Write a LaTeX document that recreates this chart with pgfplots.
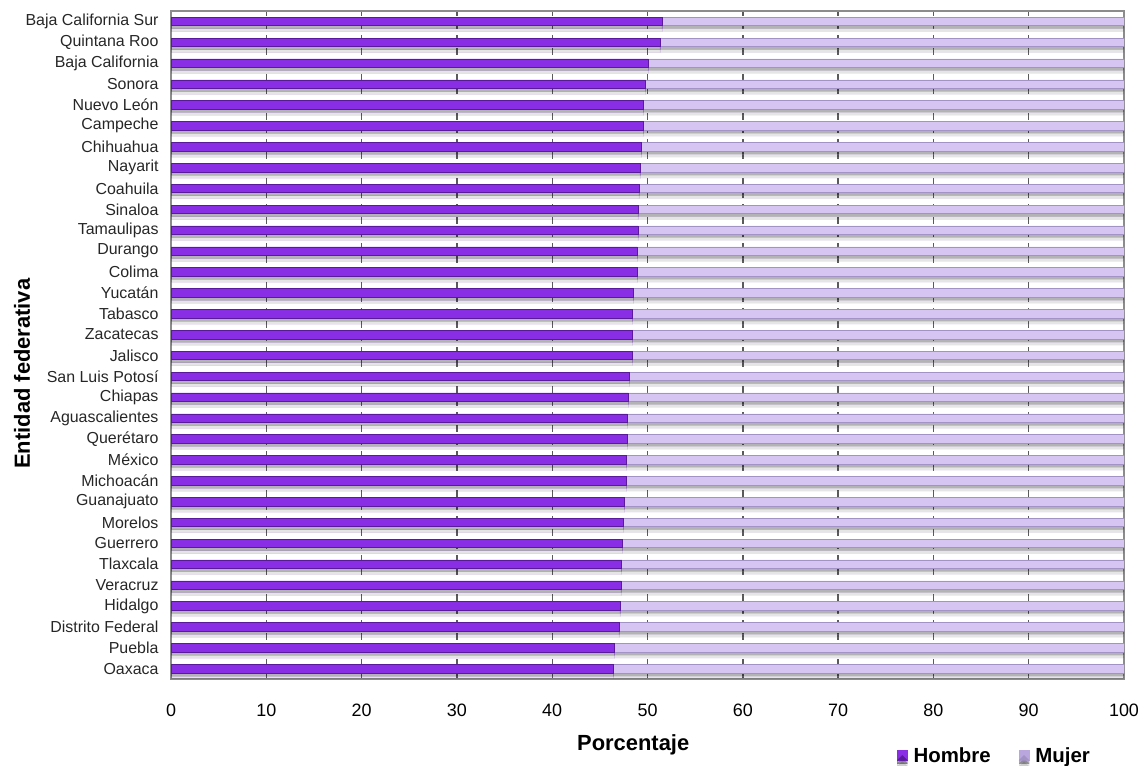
\documentclass[border=0pt]{standalone}
\usepackage{fontspec}
\setmainfont{Liberation Sans}
\usepackage{pgfplots}
\usepackage{pgfplotstable}
\pgfplotsset{compat=1.18}
\usetikzlibrary{shadows}
\definecolor{hombre}{HTML}{8A2EE6}
\definecolor{hombreD}{HTML}{5A1A9C}
\definecolor{mujer}{HTML}{D6C4F2}
\definecolor{mujerD}{HTML}{A393C4}
\definecolor{mujerL}{HTML}{B8A6DC}
\definecolor{gridc}{HTML}{5A5A5A}
\definecolor{framec}{HTML}{8C8C8C}

% y = 0 (Oaxaca, bottom) ... 31 (Baja California Sur, top)
\pgfplotstableread{
y hombre mujer
0  46.4 53.6
1  46.5 53.5
2  47.0 53.0
3  47.1 52.9
4  47.2 52.8
5  47.3 52.7
6  47.4 52.6
7  47.5 52.5
8  47.6 52.4
9  47.8 52.2
10 47.8 52.2
11 47.9 52.1
12 47.9 52.1
13 48.0 52.0
14 48.1 51.9
15 48.4 51.6
16 48.4 51.6
17 48.4 51.6
18 48.5 51.5
19 48.9 51.1
20 48.9 51.1
21 49.0 51.0
22 49.0 51.0
23 49.1 50.9
24 49.2 50.8
25 49.4 50.6
26 49.6 50.4
27 49.6 50.4
28 49.8 50.2
29 50.1 49.9
30 51.3 48.7
31 51.5 48.5
}\datatable

\begin{document}
\begin{tikzpicture}
\path[use as bounding box] (0,0) rectangle (1146bp,766bp);
\begin{axis}[
  at={(171bp,87bp)}, anchor=south west,
  scale only axis,
  width=953bp, height=668bp,
  xbar stacked,
  bar width=8.5bp,
  xmin=0, xmax=100,
  ymin=-0.5, ymax=31.5,
  xtick={0,10,...,100},
  ytick={0,1,...,31},
  yticklabels={Oaxaca,Puebla,Distrito Federal,Hidalgo,Veracruz,Tlaxcala,Guerrero,Morelos,Guanajuato,Michoacán,México,Querétaro,Aguascalientes,Chiapas,San Luis Potosí,Jalisco,Zacatecas,Tabasco,Yucatán,Colima,Durango,Tamaulipas,Sinaloa,Coahuila,Nayarit,Chihuahua,Campeche,Nuevo León,Sonora,Baja California,Quintana Roo,Baja California Sur},
  major tick length=0pt,
  /pgf/number format/assume math mode=true,
  xticklabel style={font=\fontsize{18}{20}\selectfont, yshift=-21bp},
  yticklabel style={font=\fontsize{16}{18}\selectfont, xshift=-9bp, text=black!85},
  xmajorgrids,
  major x grid style={gridc, line width=1.4bp, dash pattern=on 7bp off 6bp},
  axis line style={framec, line width=1.2bp},
  xlabel={\bfseries Porcentaje},
  xlabel style={font=\fontsize{22}{24}\selectfont, at={(rel axis cs:0.485,0)}, anchor=center, yshift=-66bp},
  ylabel={\bfseries Entidad federativa},
  ylabel style={font=\fontsize{22}{24}\selectfont, at={(rel axis cs:0,0.457)}, anchor=center, yshift=149bp},
  legend style={at={(rel axis cs:0.864,0)}, anchor=center, yshift=-76.5bp, draw=none, fill=none, legend columns=2,
    inner sep=0pt,
    font=\fontsize{20.5}{22}\selectfont\bfseries,
    /tikz/every odd column/.append style={column sep=4bp},
    /tikz/every even column/.append style={column sep=26bp}},
]
\addplot[fill=hombre, draw=hombreD, line width=0.6bp,
  general shadow={shadow xshift=0bp, shadow yshift=-3bp, fill=black, opacity=0.22},
  general shadow={shadow xshift=0bp, shadow yshift=-6bp, fill=black, opacity=0.10},
  legend image code/.code={\fill[hombre] (0bp,-5bp) rectangle (10bp,5bp); \draw[hombreD, line width=0.6bp] (0bp,-5bp) -- (5bp,0bp) -- (10bp,-5bp);}]
  table[x=hombre, y=y] {\datatable};
\addlegendentry{Hombre}
\addplot[fill=mujer, draw=mujerD, line width=0.6bp,
  general shadow={shadow xshift=0bp, shadow yshift=-3bp, fill=black, opacity=0.22},
  general shadow={shadow xshift=0bp, shadow yshift=-6bp, fill=black, opacity=0.10},
  legend image code/.code={\fill[mujerL] (0bp,-5bp) rectangle (10bp,5bp); \draw[mujerD, line width=0.6bp] (0bp,-5bp) -- (5bp,0bp) -- (10bp,-5bp);}]
  table[x=mujer, y=y] {\datatable};
\addlegendentry{Mujer}
\end{axis}
\end{tikzpicture}
\end{document}
